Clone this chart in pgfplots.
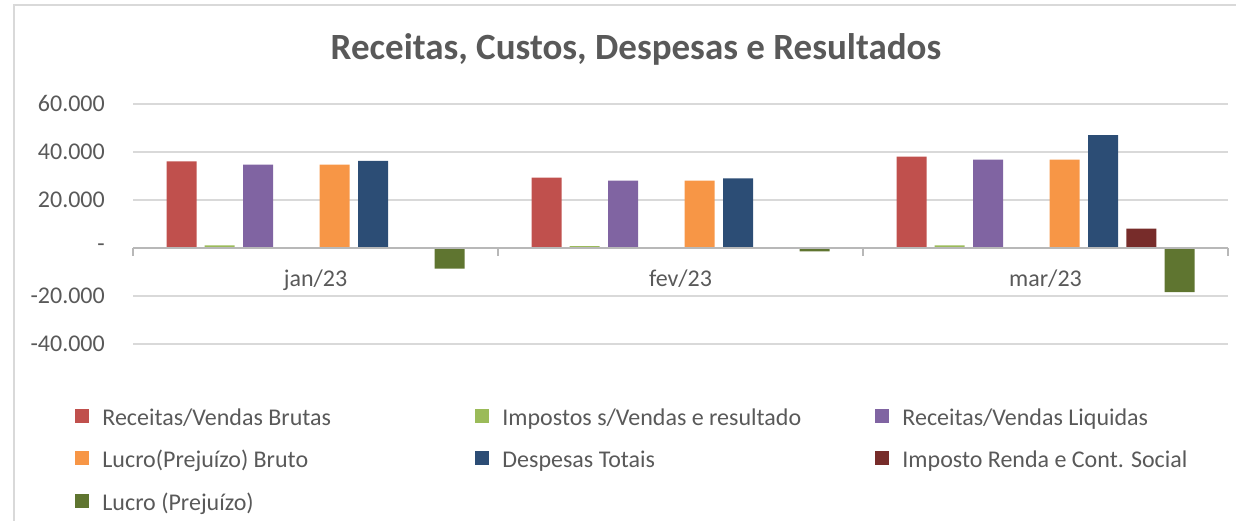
\documentclass[border=0pt]{standalone}
\usepackage{pgfplots}
\pgfplotsset{compat=1.18}
\usepackage{fontspec}
\setmainfont{Carlito}
\definecolor{cRed}{HTML}{C0504D}
\definecolor{cLGreen}{HTML}{9BBB59}
\definecolor{cPurple}{HTML}{8064A2}
\definecolor{cOrange}{HTML}{F79646}
\definecolor{cBlue}{HTML}{2C4D75}
\definecolor{cDRed}{HTML}{772C2A}
\definecolor{cDGreen}{HTML}{5F7530}
\definecolor{txt}{HTML}{595959}
\definecolor{gridc}{HTML}{D9D9D9}
\definecolor{framec}{HTML}{D9D9D9}
\pgfplotsset{
  mybar/.style 2 args={ybar, bar width=30bp, bar shift=#2, draw=none, fill=#1,
    legend image code/.code={\fill[fill=#1] (0bp,-7bp) rectangle (14bp,7bp);}},
}
\newcommand{\legtxt}[1]{\makebox[373bp][l]{\strut #1}}
\begin{document}
\begin{tikzpicture}[x=1bp,y=1bp]
\useasboundingbox (0,0) rectangle (1236,521);
\draw[color=framec, line width=2bp] (14,0) -- (14,516) -- (1236,516);
\node[font=\fontsize{37bp}{44bp}\selectfont\bfseries, text=txt] at (636,472) {Receitas, Custos, Despesas e Resultados};
\begin{axis}[
  at={(133bp,177bp)}, anchor=south west,
  scale only axis, width=1095bp, height=240bp,
  xmin=-0.5, xmax=2.5, ymin=-40000, ymax=60000,
  axis line style={draw=none},
  xtick=\empty,
  ytick={-40000,-20000,0,20000,40000,60000},
  yticklabels={-40.000,-20.000,-\hspace{12bp},20.000,40.000,60.000},
  scaled y ticks=false,
  ymajorgrids, major grid style={draw=gridc, line width=1.5bp},
  major tick length=0pt,
  yticklabel style={font=\fontsize{24bp}{29bp}\selectfont, text=txt, inner sep=0pt, anchor=east, xshift=-28bp},
  clip=false,
  legend columns=3,
  legend style={draw=none, fill=none, at={(-0.0555,-0.244)}, anchor=north west,
    font=\fontsize{24bp}{29bp}\selectfont, text=txt,
    nodes={inner sep=0pt},
    row sep=21bp,
    /tikz/every odd column/.style={column sep=13bp},
    /tikz/every even column/.style={column sep=0bp}},
]
\addplot[mybar={cRed}{-134bp}] coordinates {(0,36100) (1,29300) (2,38050)};
\addlegendentry{\legtxt{Receitas/Vendas Brutas}}
\addplot[mybar={cLGreen}{-95.8bp}] coordinates {(0,1100) (1,800) (2,1100)};
\addlegendentry{\legtxt{Impostos s/Vendas e resultado}}
\addplot[mybar={cPurple}{-57.5bp}] coordinates {(0,34750) (1,28050) (2,36800)};
\addlegendentry{\legtxt{Receitas/Vendas Liquidas}}
\addplot[mybar={cOrange}{19.2bp}] coordinates {(0,34750) (1,28050) (2,36800)};
\addlegendentry{\legtxt{Lucro(Prejuízo) Bruto}}
\addplot[mybar={cBlue}{57.5bp}] coordinates {(0,36300) (1,29000) (2,47000)};
\addlegendentry{\legtxt{Despesas Totais}}
\addplot[mybar={cDRed}{95.8bp}] coordinates {(0,0) (1,0) (2,8100)};
\addlegendentry{\legtxt{Imposto Renda e Cont. Social}}
\addplot[mybar={cDGreen}{134bp}] coordinates {(0,-8550) (1,-1400) (2,-18400)};
\addlegendentry{\legtxt{Lucro (Prejuízo)}}
\draw[draw=gridc!85!black, line width=1.5bp] (axis cs:-0.5,0) -- (axis cs:2.5,0);
\draw[draw=gridc!85!black, line width=1.5bp] (axis cs:-0.5,0) -- ([yshift=-8bp]axis cs:-0.5,0);
\draw[draw=gridc!85!black, line width=1.5bp] (axis cs:0.5,0) -- ([yshift=-8bp]axis cs:0.5,0);
\draw[draw=gridc!85!black, line width=1.5bp] (axis cs:1.5,0) -- ([yshift=-8bp]axis cs:1.5,0);
\draw[draw=gridc!85!black, line width=1.5bp] (axis cs:2.5,0) -- ([yshift=-8bp]axis cs:2.5,0);
\node[font=\fontsize{24bp}{29bp}\selectfont, text=txt, anchor=base, yshift=-39bp] at (axis cs:0,0) {jan/23};
\node[font=\fontsize{24bp}{29bp}\selectfont, text=txt, anchor=base, yshift=-39bp] at (axis cs:1,0) {fev/23};
\node[font=\fontsize{24bp}{29bp}\selectfont, text=txt, anchor=base, yshift=-39bp] at (axis cs:2,0) {mar/23};
\end{axis}
\end{tikzpicture}
\end{document}
